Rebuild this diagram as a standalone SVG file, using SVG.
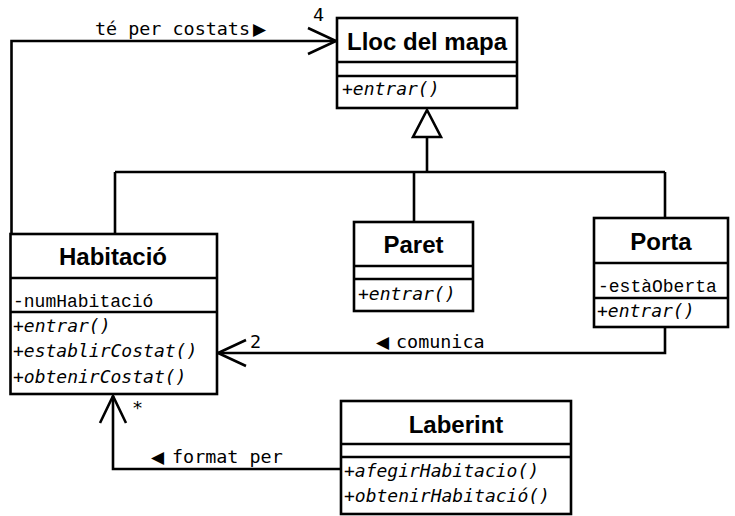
<svg xmlns="http://www.w3.org/2000/svg" width="735" height="516" viewBox="0 0 735 516">
<style>
.box{fill:#fff;stroke:#000;stroke-width:2.6}
.ln{fill:none;stroke:#000;stroke-width:2.6}
.title{font-family:"Liberation Sans",Arial,sans-serif;font-weight:bold;font-size:24px;text-anchor:middle;fill:#000}
.meth{font-family:"DejaVu Sans Mono",monospace;font-style:italic;font-size:18px;fill:#000}
.attr{font-family:"Liberation Mono","Courier New",monospace;font-size:18px;fill:#000}
.lbl{font-family:"DejaVu Sans Mono",monospace;font-size:18.4px;fill:#000}
.tri{font-family:"DejaVu Sans",sans-serif;font-size:17px}
</style>
<g id="connectors">
  <polygon class="ln" points="427,110 413,137 441,137" style="fill:#fff"/>
  <line class="ln" x1="427" y1="137" x2="427" y2="172"/>
  <line class="ln" x1="115" y1="172" x2="665" y2="172"/>
  <line class="ln" x1="115" y1="172" x2="115" y2="234"/>
  <line class="ln" x1="414" y1="172" x2="414" y2="222"/>
  <line class="ln" x1="665" y1="172" x2="665" y2="218"/>
  <polyline class="ln" points="11.5,234 11.5,41 336,41"/>
  <polyline class="ln" points="308,28 336,41 308,54"/>
  <text class="lbl" x="95" y="35">té per costats<tspan class="tri" x="253">▶</tspan></text>
  <text class="lbl" x="313" y="21">4</text>
  <polyline class="ln" points="665,327 665,353 218,353"/>
  <polyline class="ln" points="246,340 218,353 246,366"/>
  <text class="lbl" x="250" y="348">2</text>
  <text class="lbl" y="348"><tspan class="tri" x="376">◀</tspan><tspan x="396">comunica</tspan></text>
  <polyline class="ln" points="341,469 113,469 113,396"/>
  <polyline class="ln" points="100,423 113,396 126,423"/>
  <text class="lbl" x="132" y="414">*</text>
  <text class="lbl" y="463"><tspan class="tri" x="151">◀</tspan><tspan x="172">format per</tspan></text>
</g>
<g id="lloc">
  <rect class="box" x="337" y="18" width="180" height="90"/>
  <line class="ln" x1="337" y1="62" x2="517" y2="62"/>
  <line class="ln" x1="337" y1="76" x2="517" y2="76"/>
  <text class="title" x="427" y="50">Lloc del mapa</text>
  <text class="meth" x="342" y="95">+entrar()</text>
</g>
<g id="habitacio">
  <rect class="box" x="10.5" y="234" width="206.5" height="160"/>
  <line class="ln" x1="10.5" y1="278" x2="217" y2="278"/>
  <line class="ln" x1="10.5" y1="312" x2="217" y2="312"/>
  <text class="title" x="113" y="265">Habitació</text>
  <text class="attr" x="13" y="307">-numHabitació</text>
  <text class="meth" x="13" y="332">+entrar()</text>
  <text class="meth" x="13" y="357">+establirCostat()</text>
  <text class="meth" x="13" y="383">+obtenirCostat()</text>
</g>
<g id="paret">
  <rect class="box" x="354" y="222" width="119" height="89"/>
  <line class="ln" x1="354" y1="266" x2="473" y2="266"/>
  <line class="ln" x1="354" y1="279" x2="473" y2="279"/>
  <text class="title" x="413.5" y="253">Paret</text>
  <text class="meth" x="358" y="300">+entrar()</text>
</g>
<g id="porta">
  <rect class="box" x="594" y="218" width="134" height="109"/>
  <line class="ln" x1="594" y1="263" x2="728" y2="263"/>
  <line class="ln" x1="594" y1="298" x2="728" y2="298"/>
  <text class="title" x="661" y="250">Porta</text>
  <text class="attr" x="598" y="292">-estàOberta</text>
  <text class="meth" x="597" y="317">+entrar()</text>
</g>
<g id="laberint">
  <rect class="box" x="341" y="401" width="230" height="113"/>
  <line class="ln" x1="341" y1="444" x2="571" y2="444"/>
  <line class="ln" x1="341" y1="457" x2="571" y2="457"/>
  <text class="title" x="456" y="433">Laberint</text>
  <text class="meth" x="344" y="477">+afegirHabitacio()</text>
  <text class="meth" x="344" y="502">+obtenirHabitació()</text>
</g>
</svg>
